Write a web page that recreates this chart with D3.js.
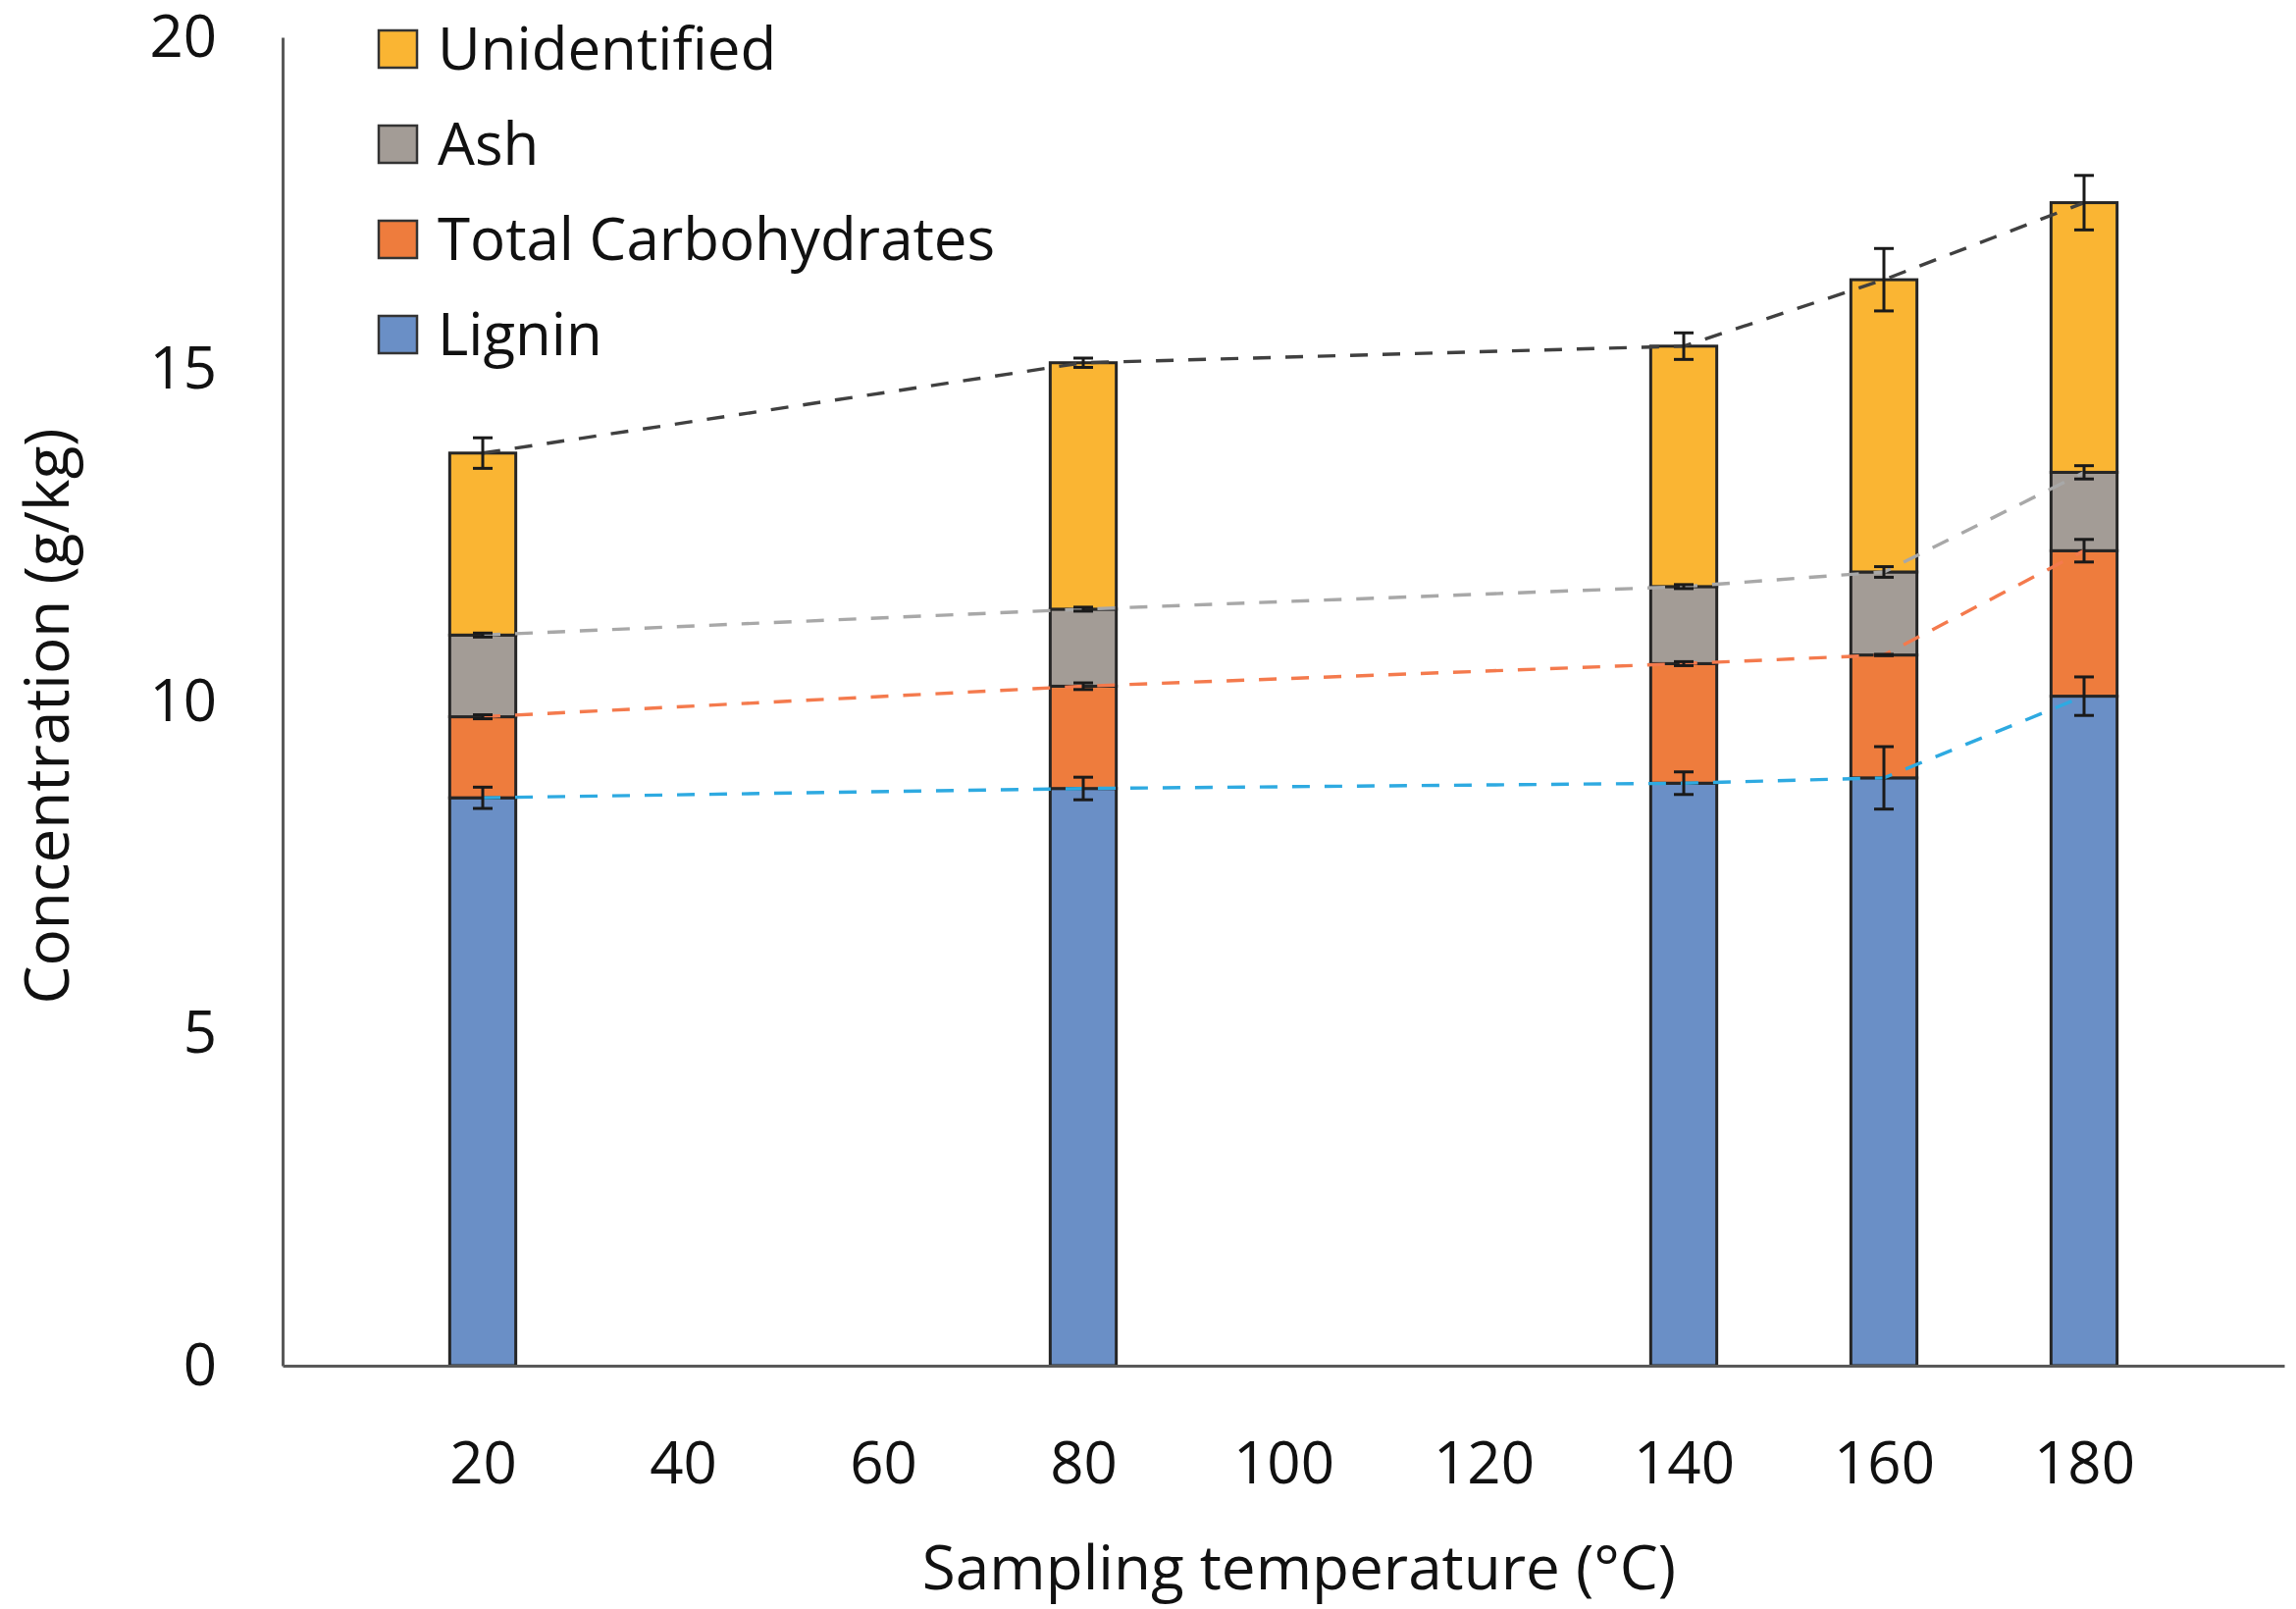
<!DOCTYPE html>
<html>
  <head>
    <title>Stacked composition by sampling temperature</title>
    <script src="https://d3js.org/d3.v7.min.js"></script>
    <style>
      body { margin: 0; background: #fff; }
      text { font-family: "Open Sans", sans-serif; fill: #111; }
      .tick-label { font-size: 60px; }
      .axis-title { font-size: 62px; }
      .legend-label { font-size: 60px; }
    </style>
  </head>
  <body>
    <svg width="2340" height="1640"></svg>
    <script>
      // values (g/kg)
      const temps = [20, 80, 140, 160, 180];
      const lignin = [8.55, 8.69, 8.77, 8.85, 10.08];
      const carbs = [1.22, 1.54, 1.80, 1.85, 2.19];
      const ash = [1.23, 1.16, 1.16, 1.25, 1.18];
      const unidentified = [2.74, 3.71, 3.62, 4.40, 4.06];

      // error bar half-widths at the top of each stacked segment
      const ligninErr = [0.16, 0.17, 0.17, 0.47, 0.29];
      const carbsErr = [0.03, 0.05, 0.03, 0.01, 0.17];
      const ashErr = [0.03, 0.03, 0.03, 0.08, 0.10];
      const unidentifiedErr = [0.23, 0.07, 0.20, 0.47, 0.41];

      const xTicks = [20, 40, 60, 80, 100, 120, 140, 160, 180];
      const yTicks = [0, 5, 10, 15, 20];

      const seriesKeys = ["lignin", "carbs", "ash", "unidentified"];
      const seriesNames = {
        lignin: "Lignin",
        carbs: "Total Carbohydrates",
        ash: "Ash",
        unidentified: "Unidentified"
      };
      const fill = {
        lignin: "#6a8fc6",
        carbs: "#ee7c3d",
        ash: "#a39c96",
        unidentified: "#fab533"
      };
      const lineColor = {
        lignin: "#2eaae1",
        carbs: "#f47a4d",
        ash: "#a8a8a8",
        unidentified: "#404040"
      };
      const errs = { lignin: ligninErr, carbs: carbsErr, ash: ashErr, unidentified: unidentifiedErr };

      const rows = temps.map((t, i) => ({
        temp: t,
        lignin: lignin[i],
        carbs: carbs[i],
        ash: ash[i],
        unidentified: unidentified[i]
      }));

      const svg = d3.select("svg");
      const x = d3.scaleLinear().domain([0, 200]).range([288, 2328]);
      const y = d3.scaleLinear().domain([0, 20]).range([1392, 38]);
      const barW = x(6.6) - x(0);

      const stacked = d3.stack().keys(seriesKeys)(rows);

      // bars
      const layers = svg.append("g").selectAll("g")
        .data(stacked)
        .join("g")
          .attr("fill", d => fill[d.key]);

      layers.selectAll("rect")
        .data(d => d)
        .join("rect")
          .attr("x", d => x(d.data.temp) - barW / 2)
          .attr("y", d => y(d[1]))
          .attr("width", barW)
          .attr("height", d => y(d[0]) - y(d[1]))
          .attr("stroke", "#262626")
          .attr("stroke-width", 3);

      // axes
      svg.append("g")
        .attr("transform", `translate(0,${y(0)})`)
        .call(d3.axisBottom(x).tickValues(xTicks).tickSize(0).tickPadding(0))
        .call(g => g.select(".domain").attr("stroke", "#595959").attr("stroke-width", 3))
        .call(g => g.selectAll(".tick text")
          .attr("class", "tick-label")
          .attr("fill", "#111")
          .attr("dy", null)
          .attr("y", 120));

      svg.append("g")
        .attr("transform", `translate(${x(0)},0)`)
        .call(d3.axisLeft(y).tickValues(yTicks).tickSize(0).tickPadding(67))
        .call(g => g.select(".domain").attr("stroke", "#595959").attr("stroke-width", 3))
        .call(g => g.selectAll(".tick text")
          .attr("class", "tick-label")
          .attr("fill", "#111"));

      // dashed connecting lines through the top of each segment
      const line = d3.line()
        .x(d => x(d.data.temp))
        .y(d => y(d[1]));

      svg.append("g").selectAll("path")
        .data(stacked)
        .join("path")
          .attr("d", d => line(d))
          .attr("fill", "none")
          .attr("stroke", d => lineColor[d.key])
          .attr("stroke-width", 3.4)
          .attr("stroke-dasharray", "18 15");

      // error bars
      const capW = 20;
      const errG = svg.append("g")
        .attr("stroke", "#1a1a1a")
        .attr("stroke-width", 3);

      stacked.forEach(layer => {
        layer.forEach((d, i) => {
          const cx = x(d.data.temp);
          const e = errs[layer.key][i];
          const y1 = y(d[1] + e), y0 = y(d[1] - e);
          errG.append("line").attr("x1", cx).attr("x2", cx).attr("y1", y1).attr("y2", y0);
          errG.append("line").attr("x1", cx - capW / 2).attr("x2", cx + capW / 2).attr("y1", y1).attr("y2", y1);
          errG.append("line").attr("x1", cx - capW / 2).attr("x2", cx + capW / 2).attr("y1", y0).attr("y2", y0);
        });
      });

      // axis titles
      svg.append("text")
        .attr("class", "axis-title")
        .attr("x", 1324)
        .attr("y", 1620)
        .attr("text-anchor", "middle")
        .text("Sampling temperature (°C)");

      svg.append("text")
        .attr("class", "axis-title")
        .attr("transform", `translate(70,730) rotate(-90)`)
        .attr("text-anchor", "middle")
        .text("Concentration (g/kg)");

      // legend (top to bottom: reverse stack order)
      const legendKeys = seriesKeys.slice().reverse();
      const legend = svg.append("g").selectAll("g")
        .data(legendKeys)
        .join("g")
          .attr("transform", (d, i) => `translate(386,${50 + i * 97})`);

      legend.append("rect")
        .attr("x", 0)
        .attr("y", -19)
        .attr("width", 39)
        .attr("height", 38)
        .attr("fill", d => fill[d])
        .attr("stroke", "#333")
        .attr("stroke-width", 2.5);

      legend.append("text")
        .attr("class", "legend-label")
        .attr("x", 60)
        .attr("y", 0)
        .attr("dy", "0.35em")
        .text(d => seriesNames[d]);
    </script>
  </body>
</html>
